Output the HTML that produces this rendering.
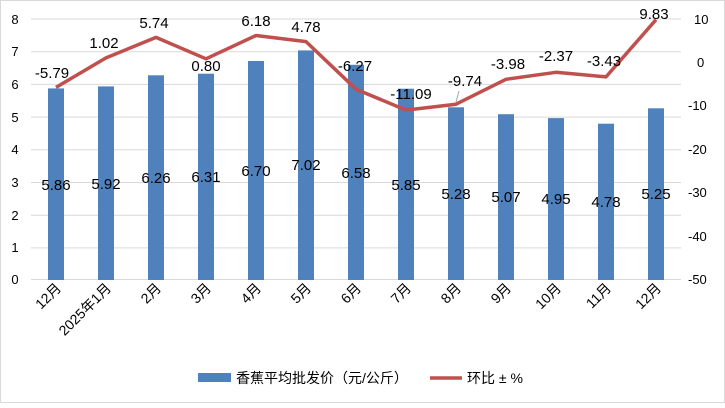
<!DOCTYPE html>
<html><head><meta charset="utf-8"><style>
html,body{margin:0;padding:0;background:#fff;}
svg text{font-family:"Liberation Sans","Noto Sans CJK SC",sans-serif;}
</style></head><body>
<svg width="725" height="403" xmlns="http://www.w3.org/2000/svg">
<rect x="0.5" y="0.5" width="724" height="402" fill="#fff" stroke="#d9d9d9"/>
<g stroke="#d9d9d9" stroke-width="1">
<line x1="31" x2="681" y1="19" y2="19"/><line x1="31" x2="681" y1="51.7" y2="51.7"/>
<line x1="31" x2="681" y1="84.4" y2="84.4"/><line x1="31" x2="681" y1="117.1" y2="117.1"/>
<line x1="31" x2="681" y1="149.8" y2="149.8"/><line x1="31" x2="681" y1="182.5" y2="182.5"/>
<line x1="31" x2="681" y1="215.2" y2="215.2"/><line x1="31" x2="681" y1="247.9" y2="247.9"/>
<line x1="31" x2="681" y1="279.5" y2="279.5"/>
</g>
<g font-size="13" fill="#000" text-anchor="middle">
<text x="15" y="24">8</text><text x="15" y="56">7</text><text x="15" y="89">6</text>
<text x="15" y="122">5</text><text x="15" y="154">4</text><text x="15" y="187">3</text>
<text x="15" y="220">2</text><text x="15" y="252">1</text><text x="15" y="284">0</text>
</g>
<g font-size="13" fill="#000" text-anchor="start">
<text x="694" y="24">10</text><text x="697" y="67">0</text><text x="688" y="110">-10</text>
<text x="688" y="154">-20</text><text x="688" y="197">-30</text><text x="688" y="241">-40</text>
<text x="688" y="284">-50</text>
</g>
<g fill="#4f81bd">
<rect x="48" y="88.4" width="16" height="191.6"/>
<rect x="98" y="86.4" width="16" height="193.6"/>
<rect x="148" y="75.3" width="16" height="204.7"/>
<rect x="198" y="73.7" width="16" height="206.3"/>
<rect x="248" y="61" width="16" height="219"/>
<rect x="298" y="50.4" width="16" height="229.6"/>
<rect x="348" y="64.8" width="16" height="215.2"/>
<rect x="398" y="88.7" width="16" height="191.3"/>
<rect x="448" y="107.3" width="16" height="172.7"/>
<rect x="498" y="114.2" width="16" height="165.8"/>
<rect x="548" y="118.1" width="16" height="161.9"/>
<rect x="598" y="123.7" width="16" height="156.3"/>
<rect x="648" y="108.3" width="16" height="171.7"/>
</g>
<g font-size="15" fill="#000" text-anchor="middle">
<text x="56" y="190">5.86</text><text x="106" y="189">5.92</text><text x="156" y="183">6.26</text>
<text x="206" y="182">6.31</text><text x="256" y="176">6.70</text><text x="306" y="170">7.02</text>
<text x="356" y="178">6.58</text><text x="406" y="190">5.85</text><text x="456" y="199">5.28</text>
<text x="506" y="202">5.07</text><text x="556" y="204">4.95</text><text x="606" y="207">4.78</text>
<text x="656" y="199">5.25</text>
</g>
<polyline fill="none" stroke="#c0504d" stroke-width="3.5" stroke-linejoin="round" points="56,87.4 106,57.9 156,37.4 206,58.8 256,35.5 306,41.6 356,89.2 406,110.1 456,104.2 506,79.3 556,72.3 606,76.9 656,19.7"/>
<g font-size="15" fill="#000" text-anchor="middle">
<text x="52" y="78">-5.79</text><text x="104" y="48">1.02</text><text x="154" y="28">5.74</text>
<text x="206" y="71">0.80</text><text x="256" y="26">6.18</text><text x="306" y="32">4.78</text>
<text x="355" y="71">-6.27</text><text x="411" y="99">-11.09</text><text x="465" y="86">-9.74</text>
<text x="508" y="69">-3.98</text><text x="556" y="61">-2.37</text><text x="604" y="66">-3.43</text>
<text x="654" y="19">9.83</text>
</g>
<line x1="459" y1="91" x2="456" y2="102" stroke="#a6a6a6" stroke-width="1"/>
<g font-size="14" fill="#000" text-anchor="end">
<text transform="translate(62,289) rotate(-45)">12月</text>
<text transform="translate(112,289) rotate(-45)">2025年1月</text>
<text transform="translate(162,289) rotate(-45)">2月</text>
<text transform="translate(212,289) rotate(-45)">3月</text>
<text transform="translate(262,289) rotate(-45)">4月</text>
<text transform="translate(312,289) rotate(-45)">5月</text>
<text transform="translate(362,289) rotate(-45)">6月</text>
<text transform="translate(412,289) rotate(-45)">7月</text>
<text transform="translate(462,289) rotate(-45)">8月</text>
<text transform="translate(512,289) rotate(-45)">9月</text>
<text transform="translate(562,289) rotate(-45)">10月</text>
<text transform="translate(612,289) rotate(-45)">11月</text>
<text transform="translate(662,289) rotate(-45)">12月</text>
</g>
<rect x="198" y="373" width="33" height="9" fill="#4f81bd"/>
<text x="236" y="383" font-size="14">香蕉平均批发价（元/公斤）</text>
<line x1="430" y1="378" x2="462" y2="378" stroke="#c0504d" stroke-width="3.5"/>
<text x="467" y="383" font-size="14">环比 ± %</text>
</svg>
</body></html>
